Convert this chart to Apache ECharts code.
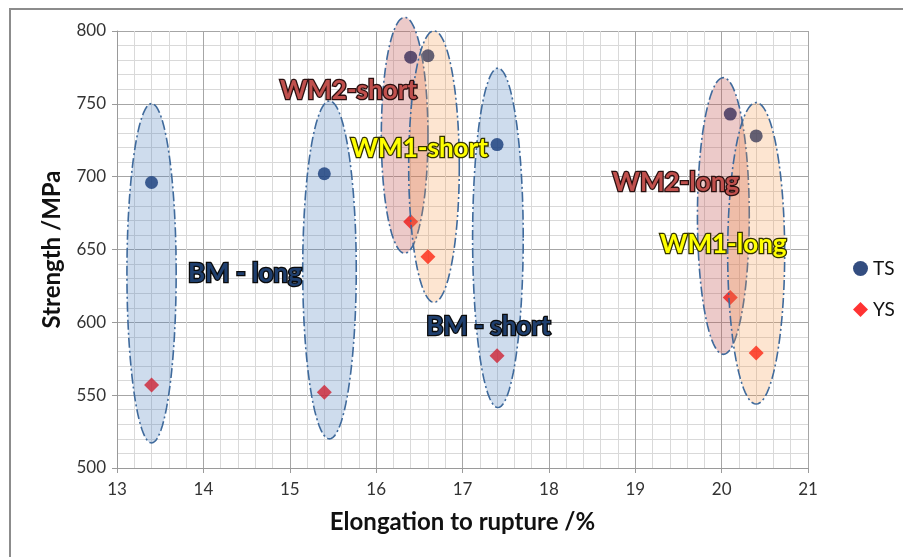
<!DOCTYPE html>
<html>
<head>
<meta charset="utf-8">
<script src="https://cdn.jsdelivr.net/npm/echarts@6/dist/echarts.min.js"></script>
<style>html,body{margin:0;padding:0;background:#fff;}#c{width:903px;height:557px;}</style>
</head>
<body>
<div id="c"></div>
<script>
// Elongation (x) and strength values
const elongation = [13.4, 15.4, 16.4, 16.6, 17.4, 20.1, 20.4];
const tsValues   = [696, 702, 782, 783, 722, 743, 728];
const ysValues   = [557, 552, 669, 645, 577, 617, 579];

// Group ellipses: [centre x, centre y, half-width x, half-height y, group]
const ellipseGroups = ['BM', 'WM2', 'WM1'];
const ellipses = [
  [13.40, 633.7, 0.285, 116.5, 'BM'],
  [15.46, 636.0, 0.31, 116.0, 'BM'],
  [16.33, 728.4, 0.27, 81.0, 'WM2'],
  [16.67, 706.9, 0.293, 93.2, 'WM1'],
  [17.41, 658.0, 0.293, 116.5, 'BM'],
  [20.02, 673.0, 0.30, 95.0, 'WM2'],
  [20.40, 647.4, 0.33, 103.5, 'WM1']
];

// Group labels: [x, y, text, group]
const groupLabels = [
  [14.48, 633.7, 'BM - long', 'BM'],
  [17.30, 597.3, 'BM - short', 'BM'],
  [15.68, 759.3, 'WM2-short', 'WM2'],
  [16.50, 719.5, 'WM1-short', 'WM1'],
  [19.47, 696.2, 'WM2-long', 'WM2'],
  [20.02, 653.6, 'WM1-long', 'WM1']
];

const xTicks = [13, 14, 15, 16, 17, 18, 19, 20, 21];
const yTicks = [500, 550, 600, 650, 700, 750, 800];

const fills = {BM: 'rgba(79,129,189,0.28)', WM2: 'rgba(192,80,77,0.30)', WM1: 'rgba(247,150,70,0.25)'};
const textFill = {BM: '#1f3f6e', WM2: '#c0504d', WM1: '#ffff00'};
const textStroke = {BM: '#0a0a0a', WM2: '#2a1010', WM1: '#333300'};

const font = 'Lato, "Open Sans", sans-serif';
const chart = echarts.init(document.getElementById('c'));
chart.setOption({
  animation: false,
  backgroundColor: '#fff',
  graphic: [{
    type: 'rect', shape: {x: 10, y: 9, width: 900, height: 560},
    style: {fill: 'none', stroke: '#8c8c8c', lineWidth: 2}, z: -1, silent: true
  }],
  grid: {left: 117, right: 95, top: 31, bottom: 89},
  legend: {
    data: ['TS', 'YS'], orient: 'vertical', left: 848, top: 254, itemGap: 22,
    itemWidth: 15, itemHeight: 15,
    textStyle: {fontSize: 19, color: '#111', fontFamily: font}
  },
  xAxis: {
    type: 'value', min: xTicks[0], max: xTicks[xTicks.length - 1], interval: 1,
    name: 'Elongation to rupture /%', nameLocation: 'middle', nameGap: 42,
    nameTextStyle: {fontSize: 24, fontWeight: 'bold', color: '#111', fontFamily: font},
    axisLine: {show: true, lineStyle: {color: '#9a9a9a', width: 1}},
    axisTick: {show: true, length: 5, lineStyle: {color: '#9a9a9a'}},
    axisLabel: {fontSize: 17, color: '#333', margin: 13, fontFamily: font},
    splitLine: {show: true, lineStyle: {color: '#a6a6a6', width: 1}},
    minorTick: {show: false, splitNumber: 5},
    minorSplitLine: {show: true, lineStyle: {color: '#d9d9d9', width: 1}}
  },
  yAxis: {
    type: 'value', min: yTicks[0], max: yTicks[yTicks.length - 1], interval: 50,
    name: 'Strength /MPa', nameLocation: 'middle', nameGap: 53,
    nameTextStyle: {fontSize: 24, fontWeight: 'bold', color: '#111', fontFamily: font},
    axisLine: {show: true, lineStyle: {color: '#9a9a9a', width: 1}},
    axisTick: {show: true, length: 5, lineStyle: {color: '#9a9a9a'}},
    axisLabel: {fontSize: 17, color: '#333', margin: 11, fontFamily: font},
    splitLine: {show: true, lineStyle: {color: '#a6a6a6', width: 1}},
    minorTick: {show: false, splitNumber: 5},
    minorSplitLine: {show: true, lineStyle: {color: '#d9d9d9', width: 1}}
  },
  series: [
    {
      name: 'TS', type: 'scatter', symbol: 'circle', symbolSize: 13, z: 2,
      itemStyle: {color: '#002060'},
      data: elongation.map((x, i) => [x, tsValues[i]])
    },
    {
      name: 'YS', type: 'scatter', symbol: 'diamond', symbolSize: 15, z: 2,
      itemStyle: {color: '#ff0000'},
      data: elongation.map((x, i) => [x, ysValues[i]])
    },
    {
      name: 'groups', type: 'custom', z: 3, clip: false, silent: true,
      encode: {x: 0, y: 1},
      data: ellipses,
      renderItem: function (params, api) {
        const cx = api.value(0), cy = api.value(1), rx = api.value(2), ry = api.value(3);
        const g = ellipses[params.dataIndex][4];
        const pts = [];
        for (let i = 0; i < 96; i++) {
          const t = 2 * Math.PI * i / 96;
          pts.push(api.coord([cx + rx * Math.cos(t), cy + ry * Math.sin(t)]));
        }
        return {
          type: 'polygon', shape: {points: pts},
          style: {fill: fills[g], stroke: '#3f6a9c', lineWidth: 1.6, lineDash: [10, 3, 2, 3]}
        };
      }
    },
    {
      name: 'labels', type: 'custom', z: 4, clip: false, silent: true,
      encode: {x: 0, y: 1},
      data: groupLabels,
      renderItem: function (params, api) {
        const item = groupLabels[params.dataIndex];
        const p = api.coord([api.value(0), api.value(1)]);
        return {
          type: 'text', x: p[0], y: p[1],
          style: {
            text: item[2], x: 0, y: 0, align: 'center', verticalAlign: 'middle',
            font: 'bold 26px ' + font, fill: textFill[item[3]],
            stroke: textStroke[item[3]], lineWidth: 2.6,
            shadowBlur: 3, shadowColor: 'rgba(0,0,0,0.35)'
          }
        };
      }
    }
  ]
});
</script>
</body>
</html>
